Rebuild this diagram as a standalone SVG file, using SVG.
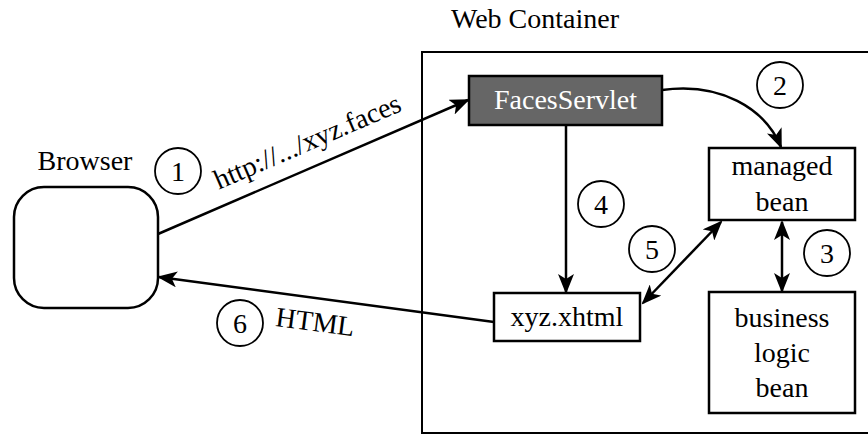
<svg xmlns="http://www.w3.org/2000/svg" width="868" height="436" viewBox="0 0 868 436">
<style>
text{font-family:"Liberation Serif","Times New Roman",serif;font-size:28px;fill:#000}
.c{text-anchor:middle}
.box{fill:#fff;stroke:#000;stroke-width:2.5}
.ln{fill:none;stroke:#000;stroke-width:2.5}
.num{fill:#fff;stroke:#000;stroke-width:1.8}
</style>
<defs>
<marker id="ah" viewBox="0 0 20 16" refX="18" refY="8" markerWidth="20" markerHeight="16" markerUnits="userSpaceOnUse" orient="auto-start-reverse">
<path d="M0,0 L20,8 L0,16 L5,8 z" fill="#000"/>
</marker>
</defs>
<g id="container">
<rect x="422" y="52" width="460" height="381" fill="none" stroke="#000" stroke-width="2"/>
<text class="c" x="535" y="28">Web Container</text>
</g>
<g id="browser">
<rect class="box" x="14" y="187" width="144" height="121" rx="30" ry="30"/>
<text class="c" x="85" y="170">Browser</text>
</g>
<g id="facesservlet">
<rect x="469" y="76" width="193" height="49" fill="#666" stroke="#000" stroke-width="2.5"/>
<text class="c" x="565.5" y="109" style="fill:#fff">FacesServlet</text>
</g>
<g id="managedbean">
<rect class="box" x="709" y="148" width="146" height="72"/>
<text class="c" x="782" y="175">managed</text>
<text class="c" x="782" y="211">bean</text>
</g>
<g id="xhtml">
<rect class="box" x="494" y="293" width="146" height="48"/>
<text class="c" x="567" y="326">xyz.xhtml</text>
</g>
<g id="businessbean">
<rect class="box" x="709" y="292" width="146" height="121"/>
<text class="c" x="782" y="327">business</text>
<text class="c" x="782" y="362">logic</text>
<text class="c" x="782" y="397">bean</text>
</g>
<g id="connectors">
<line class="ln" x1="158" y1="234" x2="468" y2="100" marker-end="url(#ah)"/>
<path class="ln" d="M662,90 C720,82 765,108 781,147" marker-end="url(#ah)"/>
<line class="ln" x1="566" y1="125" x2="566" y2="292" marker-end="url(#ah)"/>
<line class="ln" x1="643" y1="303" x2="721" y2="222" marker-start="url(#ah)" marker-end="url(#ah)"/>
<line class="ln" x1="782" y1="222" x2="782" y2="291" marker-start="url(#ah)" marker-end="url(#ah)"/>
<line class="ln" x1="494" y1="322" x2="159" y2="277" marker-end="url(#ah)"/>
<text class="c" x="311" y="150" transform="rotate(-23.3 311 150)">http://.../xyz.faces</text>
<text class="c" x="314" y="331" transform="rotate(7.4 314 331)">HTML</text>
</g>
<g id="steps">
<circle class="num" cx="178" cy="171" r="23"/><text class="c" x="178" y="181">1</text>
<circle class="num" cx="780" cy="85" r="23"/><text class="c" x="780" y="95">2</text>
<circle class="num" cx="827" cy="253" r="23"/><text class="c" x="827" y="263">3</text>
<circle class="num" cx="601" cy="204" r="23"/><text class="c" x="601" y="214">4</text>
<circle class="num" cx="652" cy="249" r="23"/><text class="c" x="652" y="259">5</text>
<circle class="num" cx="240" cy="323" r="23"/><text class="c" x="240" y="333">6</text>
</g>
</svg>
